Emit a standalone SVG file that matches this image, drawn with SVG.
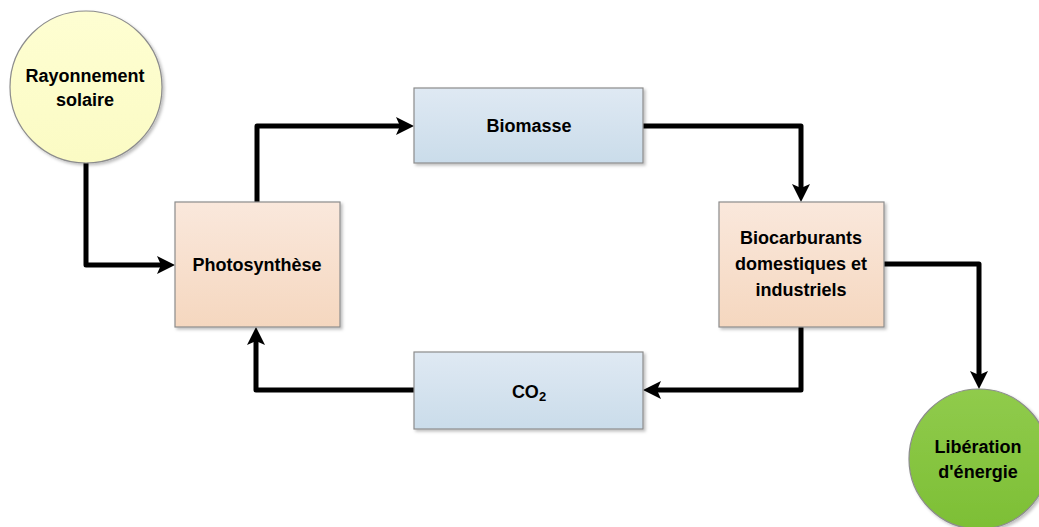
<svg xmlns="http://www.w3.org/2000/svg" width="1039" height="527" viewBox="0 0 1039 527">
<style>
.lbl{font-family:"Liberation Sans",Arial,sans-serif;font-weight:bold;font-size:18px;fill:#000;text-anchor:middle}
.box{stroke:#8c8c8c;stroke-width:1.2}
.conn{fill:none;stroke:#000;stroke-width:5;stroke-linecap:round;stroke-linejoin:round}
</style>
<defs>
<linearGradient id="gOr" x1="0" y1="0" x2="0" y2="1"><stop offset="0" stop-color="#fae8dc"/><stop offset="1" stop-color="#f5d7bf"/></linearGradient>
<linearGradient id="gBl" x1="0" y1="0" x2="0" y2="1"><stop offset="0" stop-color="#dfe9f3"/><stop offset="1" stop-color="#cadcea"/></linearGradient>
<linearGradient id="gYe" x1="0" y1="0" x2="0" y2="1"><stop offset="0" stop-color="#fefed2"/><stop offset="1" stop-color="#fbfbc4"/></linearGradient>
<linearGradient id="gGr" x1="0" y1="0" x2="0" y2="1"><stop offset="0" stop-color="#90cb4c"/><stop offset="1" stop-color="#7dbf35"/></linearGradient>
<filter id="sh" x="-10%" y="-10%" width="130%" height="130%"><feDropShadow dx="2" dy="2" stdDeviation="1.5" flood-color="#000" flood-opacity="0.25"/></filter>
<marker id="arr" markerUnits="userSpaceOnUse" markerWidth="24" markerHeight="24" viewBox="-2 -12 24 24" refX="6" refY="0" orient="auto">
<path d="M0,-9 L18,0 L0,9 L4,0 Z" fill="#000"/>
</marker>
</defs>
<g id="connectors">
<path class="conn" d="M86,163 L86,265 L163,265" marker-end="url(#arr)"/>
<path class="conn" d="M257,202 L257,126 L402,126" marker-end="url(#arr)"/>
<path class="conn" d="M643,126 L801,126 L801,190" marker-end="url(#arr)"/>
<path class="conn" d="M884,264 L979,264 L979,377" marker-end="url(#arr)"/>
<path class="conn" d="M801,327 L801,390 L655,390" marker-end="url(#arr)"/>
<path class="conn" d="M414,390 L256,390 L256,339" marker-end="url(#arr)"/>
</g>
<g id="rayonnement">
<circle cx="86" cy="87" r="76" fill="url(#gYe)" class="box" filter="url(#sh)"/>
<text class="lbl" x="85" y="82">Rayonnement</text>
<text class="lbl" x="85" y="106">solaire</text>
</g>
<g id="photosynthese">
<rect x="175" y="202" width="165" height="125" fill="url(#gOr)" class="box" filter="url(#sh)"/>
<text class="lbl" x="257" y="271">Photosynthèse</text>
</g>
<g id="biomasse">
<rect x="414" y="88" width="229" height="75" fill="url(#gBl)" class="box" filter="url(#sh)"/>
<text class="lbl" x="529" y="132">Biomasse</text>
</g>
<g id="biocarburants">
<rect x="719" y="202" width="165" height="125" fill="url(#gOr)" class="box" filter="url(#sh)"/>
<text class="lbl" x="801" y="244">Biocarburants</text>
<text class="lbl" x="801" y="270">domestiques et</text>
<text class="lbl" x="801" y="296">industriels</text>
</g>
<g id="co2">
<rect x="414" y="352" width="229" height="77" fill="url(#gBl)" class="box" filter="url(#sh)"/>
<text class="lbl" x="529" y="398">CO<tspan font-size="13" dy="3">2</tspan></text>
</g>
<g id="liberation">
<circle cx="979" cy="459" r="70" fill="url(#gGr)" class="box" filter="url(#sh)"/>
<text class="lbl" x="978" y="453">Libération</text>
<text class="lbl" x="978" y="478">d'énergie</text>
</g>
</svg>
